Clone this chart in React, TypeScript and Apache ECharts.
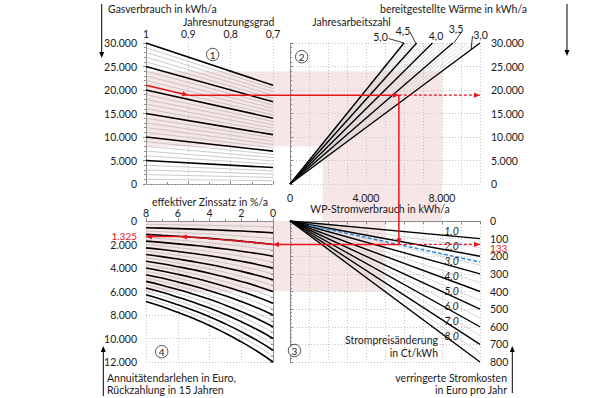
import React, { useEffect, useRef } from "react";
import * as echarts from "echarts";

// ---------------- data ----------------
// Quadrant 1: Gasverbrauch vs Jahresnutzungsgrad (eta 1 -> 0.7)
const etaRange = [0.7, 1];
const gasBoldAtEta1 = [5000, 10000, 15000, 20000, 25000, 30000];
const gasBoldAtEta07 = [3500, 7000, 10500, 14000, 17500, 21000];
const gasThinAtEta1 = [1000, 2000, 3000, 4000, 6000, 7000, 8000, 9000, 11000, 12000, 13000, 14000, 16000, 17000, 18000, 19000, 21000, 22000, 23000, 24000, 26000, 27000, 28000, 29000];
const gasThinAtEta07 = [700, 1400, 2100, 2800, 4200, 4900, 5600, 6300, 7700, 8400, 9100, 9800, 11200, 11900, 12600, 13300, 14700, 15400, 16100, 16800, 18200, 18900, 19600, 20300];

// Quadrant 2: bereitgestellte Wärme vs WP-Stromverbrauch, Jahresarbeitszahl fan
const heatTop = 30000;
const jazLabels = ["3,0", "3,5", "4,0", "4,5", "5,0"];
const jazBoldPowerAtTop = [10000, 8571, 7500, 6667, 6000];
const jazThinPowerAtTop = [9677, 9375, 9091, 8824, 8333, 8108, 7895, 7692, 7317, 7143, 6977, 6818, 6522, 6383, 6250, 6122];
const jaz30LeaderPoint = [9530, 28600];

// Quadrant 3: verringerte Stromkosten vs WP-Stromverbrauch, Strompreisänderung fan
const priceLabels = ["1,0", "2,0", "3,0", "4,0", "5,0", "6,0", "7,0", "8,0"];
const priceBoldCostAt10000 = [100, 200, 300, 400, 500, 600, 700, 800];
const priceThinCostAt1000 = [15, 25, 35, 45, 55, 65, 75];
const priceThinCostAt10000 = [150, 250, 350, 450, 550, 650, 750];
const bluePricePower = [1000, 10000];
const bluePriceCost = [23.3, 233];

// Quadrant 4: Annuitätendarlehen vs effektiver Zinssatz
const interestRates = [0, 1, 2, 3, 4, 5, 6, 7, 8];
const loanFactor = [1, 0.924, 0.857, 0.796, 0.741, 0.692, 0.648, 0.607, 0.571];
const loanBoldAt0 = [1000, 2000, 3000, 4000, 5000, 6000, 7000, 8000, 9000, 10000, 11000, 12000];
const loanThinAt0 = [500, 1500, 2500, 3500, 4500, 5500, 6500, 7500, 8500, 9500, 10500, 11500];

// Red example path
const redGas = [[1, 21000], [0.9, 18900]];
const redPower = 5730;
const redHeat = 18900;
const redCost = 133;
const redLoan = [[0, 1995], [2, 1720], [4, 1500], [5.8, 1325]];
const redLoanResult = 1325;

// Shaded ranges
const pinkHeatRange = [8000, 24000];
const pinkPowerRange = [1720, 8000];
const pinkCostRange = [0, 400];
const pinkLowerPowerMax = 5000;
const pinkLowerInterestMax = 8;

// ---------------- styling helpers ----------------
const FONT = "Lato";
const TXT = "#1a1a1a";
const RED = "#e8141c";
const AXIS_GRAY = "#8a8a8a";
const GRID_GRAY = "#c4c4c4";
const THIN_GRAY = "#b4b4b4";
const PINK = "rgba(226,160,160,0.26)";

const thousand = (v: number) => String(Math.round(v)).replace(/\B(?=(\d{3})+(?!\d))/g, ".");

const lineSeries = (g: number, data: number[][], color: string, width: number, extra: any = {}) => ({
  type: "line",
  xAxisIndex: g,
  yAxisIndex: g,
  data,
  symbol: "none",
  showSymbol: false,
  silent: true,
  lineStyle: { color, width },
  z: 3,
  ...extra,
});

const dotted = { show: true, lineStyle: { color: GRID_GRAY, width: 1, type: [1, 2] } };
const axLine = { show: true, lineStyle: { color: AXIS_GRAY, width: 1 } };
const label = (extra: any) => ({ fontFamily: FONT, fontSize: 10.5, color: TXT, showMinLabel: true, showMaxLabel: true, ...extra });

export default function App() {
  const ref = useRef<HTMLDivElement>(null);

  useEffect(() => {
    if (!ref.current) return;
    const chart = echarts.init(ref.current, null, { renderer: "svg", width: 597, height: 398 });

    const series: any[] = [];
    // Q1
    gasThinAtEta1.forEach((g, i) => series.push(lineSeries(0, [[1, g], [0.7, gasThinAtEta07[i]]], THIN_GRAY, 0.7)));
    gasBoldAtEta1.forEach((g, i) => series.push(lineSeries(0, [[1, g], [0.7, gasBoldAtEta07[i]]], "#000", 1.6)));
    series.push(
      lineSeries(0, [], "#000", 1, {
        markLine: {
          silent: true,
          symbol: "none",
          label: { show: false },
          lineStyle: { color: GRID_GRAY, type: [1, 2], width: 1 },
          data: [{ yAxis: 0 }],
        },
      })
    );
    // Q2
    jazThinPowerAtTop.forEach((p) => series.push(lineSeries(1, [[0, 0], [p, heatTop]], "#cfcfcf", 0.7)));
    jazBoldPowerAtTop.forEach((p) => series.push(lineSeries(1, [[0, 0], [p, heatTop]], "#000", 1.4)));
    // Q3
    priceThinCostAt1000.forEach((c, i) => series.push(lineSeries(2, [[1000, c], [10000, priceThinCostAt10000[i]]], "#c8c8c8", 0.7)));
    priceBoldCostAt10000.forEach((c) => series.push(lineSeries(2, [[0, 0], [10000, c]], "#000", 1.4)));
    series.push(
      lineSeries(2, [[bluePricePower[0], bluePriceCost[0]], [bluePricePower[1], bluePriceCost[1]]], "#2a8ad2", 1.5, {
        lineStyle: { color: "#2a8ad2", width: 1.5, type: [4, 2] },
        z: 4,
      })
    );
    // Q4
    loanThinAt0.forEach((l) =>
      series.push(lineSeries(3, interestRates.map((r, k) => [r, l * loanFactor[k]]), THIN_GRAY, 0.7, { smooth: true }))
    );
    loanBoldAt0.forEach((l) =>
      series.push(lineSeries(3, interestRates.map((r, k) => [r, l * loanFactor[k]]), "#000", 1.6, { smooth: true }))
    );

    const option: any = {
      animation: false,
      backgroundColor: "#fff",
      textStyle: { fontFamily: FONT },
      grid: [
        { left: 146, top: 43, width: 127, height: 141 },
        { left: 290, top: 43, width: 190, height: 141 },
        { left: 290, top: 221, width: 190, height: 141 },
        { left: 146, top: 221, width: 127, height: 141 },
      ],
      xAxis: [
        {
          gridIndex: 0, type: "value", min: etaRange[0], max: etaRange[1], interval: 0.1, inverse: true, position: "top",
          axisLine: axLine, axisTick: { show: true, length: 3, lineStyle: { color: AXIS_GRAY } },
          minorTick: { show: true, splitNumber: 2, length: 2, lineStyle: { color: AXIS_GRAY } },
          axisLabel: label({ margin: 4, formatter: (v: number) => { const r = Math.round(v * 10) / 10; return r === 1 ? "1" : String(r).replace(".", ","); } }),
          splitLine: dotted,
        },
        {
          gridIndex: 1, type: "value", min: 0, max: 10000, interval: 1000, position: "bottom",
          axisLine: { show: false }, axisTick: { show: false },
          axisLabel: label({ margin: 8, formatter: (v: number) => (v % 4000 === 0 ? thousand(v) : "") }),
          splitLine: dotted,
        },
        {
          gridIndex: 2, type: "value", min: 0, max: 10000, interval: 1000, position: "top",
          axisLine: axLine, axisTick: { show: true, inside: true, length: 3, lineStyle: { color: AXIS_GRAY } },
          axisLabel: { show: false },
          splitLine: dotted,
        },
        {
          gridIndex: 3, type: "value", min: 0, max: 8, interval: 2, inverse: true, position: "top",
          axisLine: axLine, axisTick: { show: true, length: 3, lineStyle: { color: AXIS_GRAY } },
          minorTick: { show: true, splitNumber: 2, length: 2, lineStyle: { color: AXIS_GRAY } },
          axisLabel: label({ margin: 3 }),
          splitLine: dotted,
        },
      ],
      yAxis: [
        {
          gridIndex: 0, type: "value", min: 0, max: 30000, interval: 5000, position: "left",
          axisLine: axLine, axisTick: { show: true, length: 3, lineStyle: { color: AXIS_GRAY } },
          minorTick: { show: true, splitNumber: 5, length: 2, lineStyle: { color: AXIS_GRAY } },
          axisLabel: label({ margin: 9, formatter: thousand }),
          splitLine: { show: false },
        },
        {
          gridIndex: 1, type: "value", min: 0, max: 30000, interval: 5000, position: "right",
          axisLine: axLine, axisTick: { show: true, length: 3, lineStyle: { color: AXIS_GRAY } },
          minorTick: { show: true, splitNumber: 5, length: 2, lineStyle: { color: AXIS_GRAY } },
          axisLabel: label({ margin: 11, formatter: thousand }),
          splitLine: dotted,
        },
        {
          gridIndex: 2, type: "value", min: 0, max: 800, interval: 100, inverse: true, position: "right",
          axisLine: axLine, axisTick: { show: true, length: 3, lineStyle: { color: AXIS_GRAY } },
          minorTick: { show: true, splitNumber: 5, length: 2, lineStyle: { color: AXIS_GRAY } },
          axisLabel: label({ margin: 10, formatter: (v: number) => String(v) }),
          splitLine: dotted,
        },
        {
          gridIndex: 3, type: "value", min: 0, max: 12000, interval: 2000, inverse: true, position: "left",
          axisLine: axLine, axisTick: { show: true, length: 3, lineStyle: { color: AXIS_GRAY } },
          minorTick: { show: true, splitNumber: 4, length: 2, lineStyle: { color: AXIS_GRAY } },
          axisLabel: label({ margin: 9, formatter: thousand }),
          splitLine: dotted,
        },
      ],
      series,
    };
    chart.setOption(option);

    const P = (g: number, x: number, y: number) => chart.convertToPixel({ gridIndex: g }, [x, y]) as number[];
    const els: any[] = [];

    const rect = (a: number[], b: number[]) => ({
      type: "rect", silent: true, z: -1,
      shape: { x: Math.min(a[0], b[0]), y: Math.min(a[1], b[1]), width: Math.abs(b[0] - a[0]), height: Math.abs(b[1] - a[1]) },
      style: { fill: PINK },
    });
    // pink shading
    els.push(rect(P(0, 1, pinkHeatRange[1]), P(1, pinkPowerRange[1], pinkHeatRange[0])));
    els.push(rect(P(1, pinkPowerRange[0], pinkHeatRange[0]), P(2, pinkPowerRange[1], pinkCostRange[0])));
    els.push(rect(P(3, pinkLowerInterestMax, 0), P(2, pinkLowerPowerMax, pinkCostRange[1])));

    const seg = (a: number[], b: number[], color: string, w: number, dash?: number[]) => ({
      type: "line", silent: true, z: 100,
      shape: { x1: a[0], y1: a[1], x2: b[0], y2: b[1] },
      style: { stroke: color, lineWidth: w, lineDash: dash },
    });
    const arrow = (tip: number[], from: number[], color: string, len = 6, half = 2.6) => {
      const dx = tip[0] - from[0], dy = tip[1] - from[1];
      const d = Math.hypot(dx, dy) || 1;
      const ux = dx / d, uy = dy / d;
      const bx = tip[0] - ux * len, by = tip[1] - uy * len;
      return {
        type: "polygon", silent: true, z: 101,
        shape: { points: [[tip[0], tip[1]], [bx - uy * half, by + ux * half], [bx + uy * half, by - ux * half]] },
        style: { fill: color },
      };
    };
    const text = (t: string, x: number, y: number, align = "left", extra: any = {}) => ({
      type: "text", silent: true, z: 60, x, y,
      style: { text: t, fill: TXT, fontFamily: FONT, fontSize: 10.5, align, verticalAlign: "middle", ...extra },
    });

    // red path
    const r0 = P(0, redGas[0][0], redGas[0][1]);
    const r1 = P(0, redGas[1][0], redGas[1][1]);
    const r2 = P(1, redPower, redHeat);
    const r2end = P(1, 10000, redHeat);
    const r3 = P(2, redPower, redCost);
    const r3end = P(2, 10000, redCost);
    const q4 = redLoan.map((p) => P(3, p[0], p[1]));
    const q4end = P(3, 8, redLoanResult);
    els.push(seg(r0, r1, RED, 1.5), arrow(r1, r0, RED));
    els.push(seg(r1, r2, RED, 1.5), arrow(r2, r1, RED));
    els.push(seg(r2, r2end, RED, 1.3, [3, 2]), arrow(r2end, r2, RED));
    els.push(seg(r2, r3, RED, 1.5), arrow(r3, r2, RED));
    els.push(seg(r3, r3end, RED, 1.3, [3, 2]), arrow(r3end, r3, RED));
    els.push(seg(r3, q4[0], RED, 1.5), arrow(q4[0], r3, RED));
    els.push({ type: "polyline", silent: true, z: 100, shape: { points: q4 }, style: { stroke: RED, lineWidth: 1.5, fill: null } });
    els.push(arrow(q4[q4.length - 1], q4[q4.length - 2], RED));
    els.push(seg(q4[q4.length - 1], q4end, RED, 1.5), arrow(q4end, q4[q4.length - 1], RED));

    // red value labels
    els.push(text(thousand(redLoanResult), 137, q4end[1] - 1, "right", { fill: RED, fontSize: 10 }));
    els.push(text(String(redCost), 490, r3end[1] + 3.5, "left", { fill: RED, fontSize: 10 }));

    // titles and arrows
    els.push(text("Gasverbrauch in kWh/a", 108, 8.5));
    els.push(seg([101.7, 4], [101.7, 52], "#000", 1), arrow([101.7, 58], [101.7, 50], "#000", 6, 2.5));
    els.push(text("Jahresnutzungsgrad", 228.7, 21.5, "center"));
    els.push(text("bereitgestellte Wärme in kWh/a", 380, 8.5));
    els.push(seg([567, 4], [567, 50], "#000", 1), arrow([567, 56], [567, 48], "#000", 6, 2.5));
    els.push(text("Jahresarbeitszahl", 351.5, 22, "center"));
    els.push(text("WP-Stromverbrauch in kWh/a", 380, 208.5, "center"));
    els.push(text("effektiver Zinssatz in %/a", 210, 201.5, "center"));
    els.push(text("Annuitätendarlehen in Euro,", 107, 378));
    els.push(text("Rückzahlung in 15 Jahren", 107, 389.5));
    els.push(seg([103.3, 396], [103.3, 352], "#000", 1), arrow([103.3, 346], [103.3, 354], "#000", 6, 2.5));
    els.push(text("verringerte Stromkosten", 507, 378, "right"));
    els.push(text("in Euro pro Jahr", 507, 389.5, "right"));
    els.push(seg([512.3, 393], [512.3, 352], "#000", 1), arrow([512.3, 346], [512.3, 354], "#000", 6, 2.5));
    els.push(text("Strompreisänderung", 438, 340, "right"));
    els.push(text("in Ct/kWh", 438, 352.5, "right"));

    // JAZ labels with leaders
    const jazPos = [[480.5, 34.5], [456, 28.5], [436, 36], [403, 31], [380.5, 37]];
    jazLabels.forEach((t, i) => els.push(text(t, jazPos[i][0], jazPos[i][1], "center")));
    const topEnds = jazBoldPowerAtTop.map((p) => P(1, p, heatTop));
    els.push(seg([388.5, 38.5], topEnds[4], "#000", 0.8));
    els.push(seg([410, 32], [topEnds[3][0] - 1, topEnds[3][1]], "#000", 0.8));
    els.push(seg([461.5, 32], [topEnds[1][0] + 1, topEnds[1][1]], "#000", 0.8));
    els.push(seg([472.5, 36], P(1, jaz30LeaderPoint[0], jaz30LeaderPoint[1]), "#000", 0.8));

    // price labels (italic, above each line)
    priceLabels.forEach((t, i) => {
      const p = P(2, 8500, priceBoldCostAt10000[i] * 0.85);
      els.push(text(t, p[0], p[1] - 5, "center", { fontStyle: "italic" }));
    });

    // circled quadrant numbers
    const circled = [["1", 212.7, 54.5], ["2", 301.7, 56.7], ["3", 294.5, 350.5], ["4", 161.7, 351.7]];
    circled.forEach(([t, x, y]) => {
      els.push({ type: "circle", silent: true, z: 60, shape: { cx: x, cy: y, r: 6.2 }, style: { fill: "#fff", stroke: "#222", lineWidth: 0.8 } });
      els.push(text(t as string, x as number, (y as number) + 0.5, "center", { fontSize: 10 }));
    });

    chart.setOption({ graphic: { elements: els } });

    return () => chart.dispose();
  }, []);

  return (
    <div style={{ position: "fixed", left: 0, top: 0, width: 597, height: 398, background: "#fff" }}>
      <div ref={ref} style={{ position: "absolute", left: 0, top: 0, width: 597, height: 398 }} />
    </div>
  );
}
